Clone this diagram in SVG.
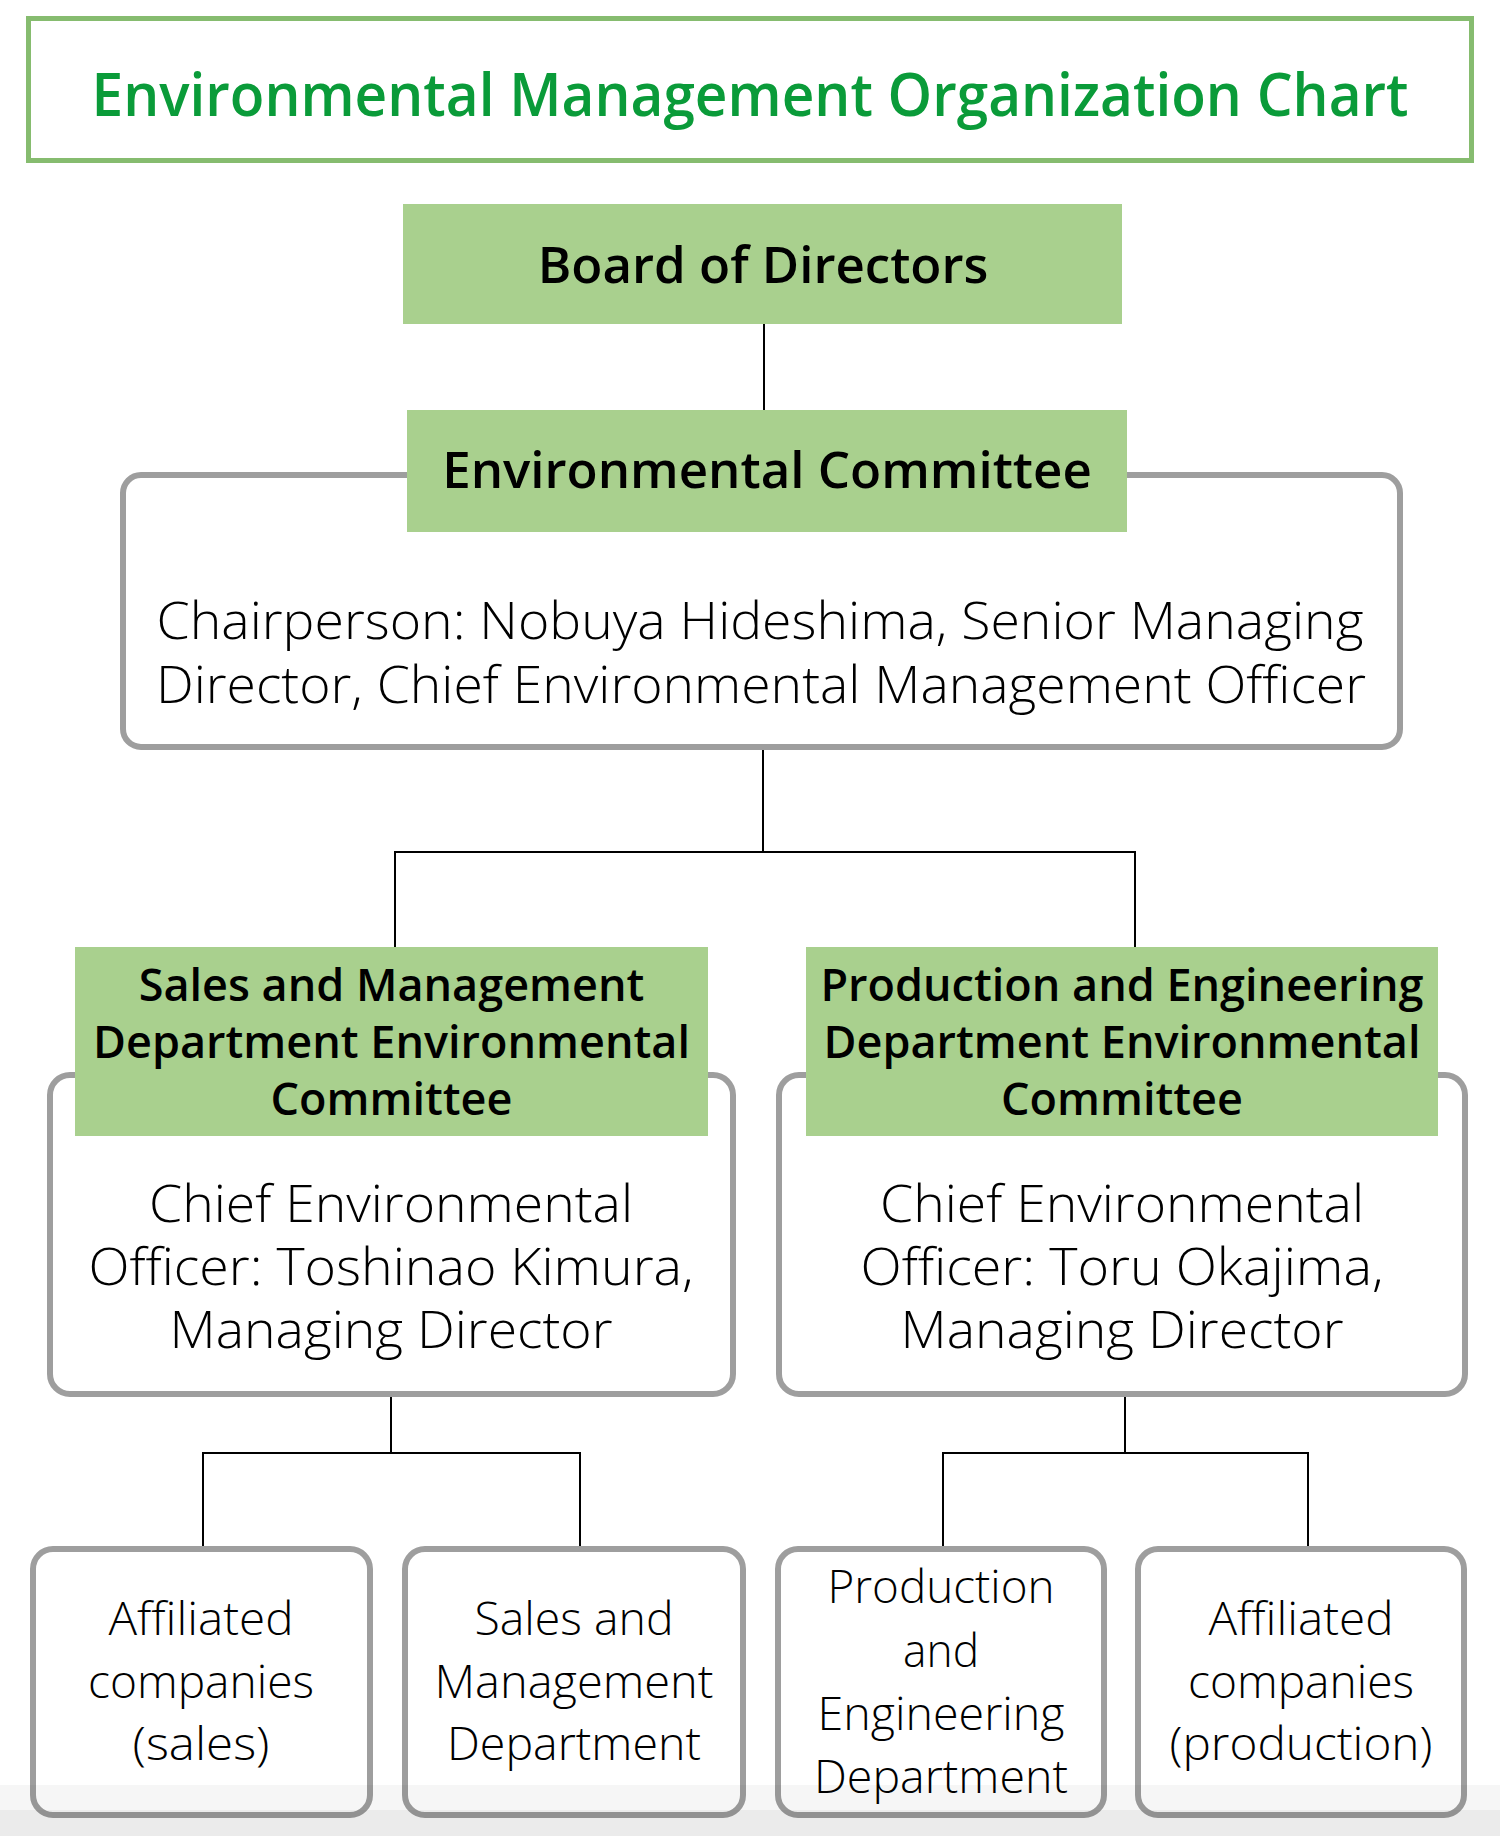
<svg xmlns="http://www.w3.org/2000/svg" width="1500" height="1836" viewBox="0 0 1500 1836">
<style>
.head{fill:#a9d08e;}
.frame{fill:#fff;stroke:#9e9e9e;stroke-width:6;}
.conn{fill:none;stroke:#000;stroke-width:2;}
.ht{font-family:"Open Sans","Noto Sans",sans-serif;font-weight:600;fill:#000;text-anchor:middle;}
.bt{font-family:"Open Sans","Noto Sans",sans-serif;font-weight:350;fill:#000;text-anchor:middle;}
</style>
<rect width="1500" height="1836" fill="#fff"/>
<g id="title">
<rect x="28.5" y="18.5" width="1443" height="142" fill="#fff" stroke="#86bc6f" stroke-width="5"/>
<text x="750" y="116" font-family="'Open Sans','Noto Sans',sans-serif" font-weight="600" font-size="60" fill="#0a9b39" text-anchor="middle" textLength="1317" lengthAdjust="spacingAndGlyphs">Environmental Management Organization Chart</text>
</g>
<g id="connectors">
<line class="conn" x1="764" y1="324" x2="764" y2="410"/>
<path class="conn" d="M763 750V852M395 947V852H1135V947"/>
<path class="conn" d="M391 1397V1453M203 1546V1453H580V1546"/>
<path class="conn" d="M1125 1397V1453M943 1546V1453H1308V1546"/>
</g>
<g id="board">
<rect class="head" x="403" y="204" width="719" height="120"/>
<text class="ht" x="763" y="283" font-size="51">Board of Directors</text>
</g>
<g id="env-committee">
<rect class="frame" x="123" y="475" width="1277" height="272" rx="18"/>
<rect class="head" x="407" y="410" width="720" height="122"/>
<text class="ht" x="767" y="488" font-size="51">Environmental Committee</text>
<text class="bt" x="760" y="639" font-size="52" textLength="1207" lengthAdjust="spacingAndGlyphs">Chairperson: Nobuya Hideshima, Senior Managing</text>
<text class="bt" x="761" y="703" font-size="52" textLength="1210" lengthAdjust="spacingAndGlyphs">Director, Chief Environmental Management Officer</text>
</g>
<g id="sales-committee">
<rect class="frame" x="50" y="1075" width="683" height="319" rx="20"/>
<rect class="head" x="75" y="947" width="633" height="189"/>
<text class="ht" x="391.5" y="1001" font-size="45">Sales and Management</text>
<text class="ht" x="391.5" y="1058" font-size="45">Department Environmental</text>
<text class="ht" x="391.5" y="1115" font-size="45">Committee</text>
<text class="bt" x="391" y="1222" font-size="52" textLength="484" lengthAdjust="spacingAndGlyphs">Chief Environmental</text>
<text class="bt" x="391" y="1285" font-size="52" textLength="605" lengthAdjust="spacingAndGlyphs">Officer: Toshinao Kimura,</text>
<text class="bt" x="391" y="1348" font-size="52" textLength="443" lengthAdjust="spacingAndGlyphs">Managing Director</text>
</g>
<g id="prod-committee">
<rect class="frame" x="779" y="1075" width="686" height="319" rx="20"/>
<rect class="head" x="806" y="947" width="632" height="189"/>
<text class="ht" x="1122" y="1001" font-size="45">Production and Engineering</text>
<text class="ht" x="1122" y="1058" font-size="45">Department Environmental</text>
<text class="ht" x="1122" y="1115" font-size="45">Committee</text>
<text class="bt" x="1122" y="1222" font-size="52" textLength="484" lengthAdjust="spacingAndGlyphs">Chief Environmental</text>
<text class="bt" x="1122" y="1285" font-size="52" textLength="523" lengthAdjust="spacingAndGlyphs">Officer: Toru Okajima,</text>
<text class="bt" x="1122" y="1348" font-size="52" textLength="443" lengthAdjust="spacingAndGlyphs">Managing Director</text>
</g>
<g id="affiliated-sales">
<rect class="frame" x="33" y="1549" width="337" height="266" rx="20"/>
<text class="bt" x="201" y="1635" font-size="46" textLength="185" lengthAdjust="spacingAndGlyphs">Affiliated</text>
<text class="bt" x="201" y="1698" font-size="46" textLength="226" lengthAdjust="spacingAndGlyphs">companies</text>
<text class="bt" x="201" y="1760" font-size="46" textLength="137" lengthAdjust="spacingAndGlyphs">(sales)</text>
</g>
<g id="sales-dept">
<rect class="frame" x="405" y="1549" width="338" height="266" rx="20"/>
<text class="bt" x="574" y="1635" font-size="46" textLength="199" lengthAdjust="spacingAndGlyphs">Sales and</text>
<text class="bt" x="574" y="1698" font-size="46" textLength="279" lengthAdjust="spacingAndGlyphs">Management</text>
<text class="bt" x="574" y="1760" font-size="46" textLength="254" lengthAdjust="spacingAndGlyphs">Department</text>
</g>
<g id="prod-dept">
<rect class="frame" x="778" y="1549" width="326" height="266" rx="20"/>
<text class="bt" x="941" y="1603" font-size="46" textLength="227" lengthAdjust="spacingAndGlyphs">Production</text>
<text class="bt" x="941" y="1667" font-size="46" textLength="76" lengthAdjust="spacingAndGlyphs">and</text>
<text class="bt" x="941" y="1730" font-size="46" textLength="247" lengthAdjust="spacingAndGlyphs">Engineering</text>
<text class="bt" x="941" y="1793" font-size="46" textLength="254" lengthAdjust="spacingAndGlyphs">Department</text>
</g>
<g id="affiliated-prod">
<rect class="frame" x="1138" y="1549" width="326" height="266" rx="20"/>
<text class="bt" x="1301" y="1635" font-size="46" textLength="185" lengthAdjust="spacingAndGlyphs">Affiliated</text>
<text class="bt" x="1301" y="1698" font-size="46" textLength="226" lengthAdjust="spacingAndGlyphs">companies</text>
<text class="bt" x="1301" y="1760" font-size="46" textLength="263" lengthAdjust="spacingAndGlyphs">(production)</text>
</g>
<rect x="0" y="1785" width="1500" height="25" fill="#000" fill-opacity="0.035"/>
<rect x="0" y="1810" width="1500" height="26" fill="#000" fill-opacity="0.08"/>
</svg>
